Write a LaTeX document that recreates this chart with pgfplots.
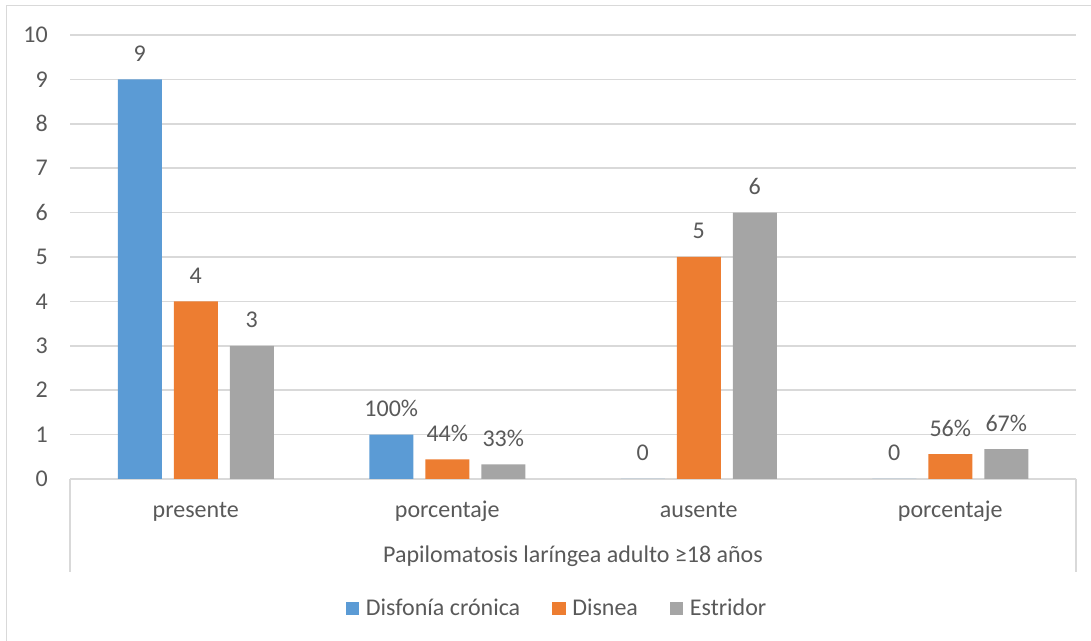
\documentclass[border=0pt]{standalone}
\usepackage{pgfplots}
\pgfplotsset{compat=1.18}
\usepackage{fontspec}
\setmainfont{Carlito}
\definecolor{cblue}{HTML}{5B9BD5}
\definecolor{corange}{HTML}{ED7D31}
\definecolor{cgray}{HTML}{A5A5A5}
\definecolor{gridc}{HTML}{D9D9D9}
\definecolor{txt}{HTML}{595959}
\pgfplotsset{sqleg/.style={legend image code/.code={\fill[##1,draw=none] (0pt,-5.25pt) rectangle (10pt,4.75pt);}}}
\begin{document}
\begin{tikzpicture}[x=0.75pt,y=0.75pt,font=\fontsize{18}{21.5}\selectfont]
\useasboundingbox (0,0) rectangle (1091,641);
\draw[gridc,line width=1.1pt] (6.5,-20) -- (6.5,635.5) -- (1120,635.5);
\begin{axis}[name=ax, at={(52.5pt,121.5pt)}, anchor=south west, scale only axis,
 width=754.5pt, height=333pt,
 ymin=0, ymax=10, xmin=-0.5, xmax=3.5,
 ytick={0,1,...,10}, xtick={0,1,2,3},
 xticklabels={presente,porcentaje,ausente,porcentaje},
 ybar=9pt, bar width=33pt,
 axis line style={draw=none}, major tick length=0pt,
 ymajorgrids, grid style={gridc,line width=1.1pt},
 /pgf/number format/assume math mode=true,
 ticklabel style={text=txt},
 yticklabel style={anchor=east,inner sep=0pt,xshift=-16.5pt},
 xticklabel style={anchor=base,inner sep=0pt,yshift=-29.25pt},
 xlabel={Papilomatosis laríngea adulto ≥18 años},
 xlabel style={at={(axis description cs:0.5,0)},anchor=base,yshift=-63pt,text=txt,inner sep=0pt},
 point meta=explicit symbolic,
 nodes near coords,
 every node near coord/.append style={text=txt,anchor=base,yshift=13.5pt,inner sep=0pt},
 legend columns=3,
 legend style={draw=none, fill=none, at={(axis description cs:0.4846,-0.2905)}, anchor=center,
   text=txt, /tikz/every odd column/.append style={column sep=3pt},
   /tikz/every even column/.append style={column sep=22pt}},
 clip=false,
]
\addplot[fill=cblue,draw=none,sqleg]
  coordinates {(0,9) [9] (1,1) [100\%] (2,0) [0] (3,0) [0]};
\addlegendentry{Disfonía crónica}
\addplot[fill=corange,draw=none,sqleg]
  coordinates {(0,4) [4] (1,0.44) [44\%] (2,5) [5] (3,0.56) [56\%]};
\addlegendentry{Disnea}
\addplot[fill=cgray,draw=none,sqleg]
  coordinates {(0,3) [3] (1,0.33) [33\%] (2,6) [6] (3,0.67) [67\%]};
\addlegendentry{Estridor}
\end{axis}
\draw[gridc,line width=1.1pt] (ax.south west) -- ++(0pt,-69.75pt);
\draw[gridc,line width=1.1pt] (ax.south east) -- ++(0pt,-69.75pt);
\end{tikzpicture}
\end{document}
